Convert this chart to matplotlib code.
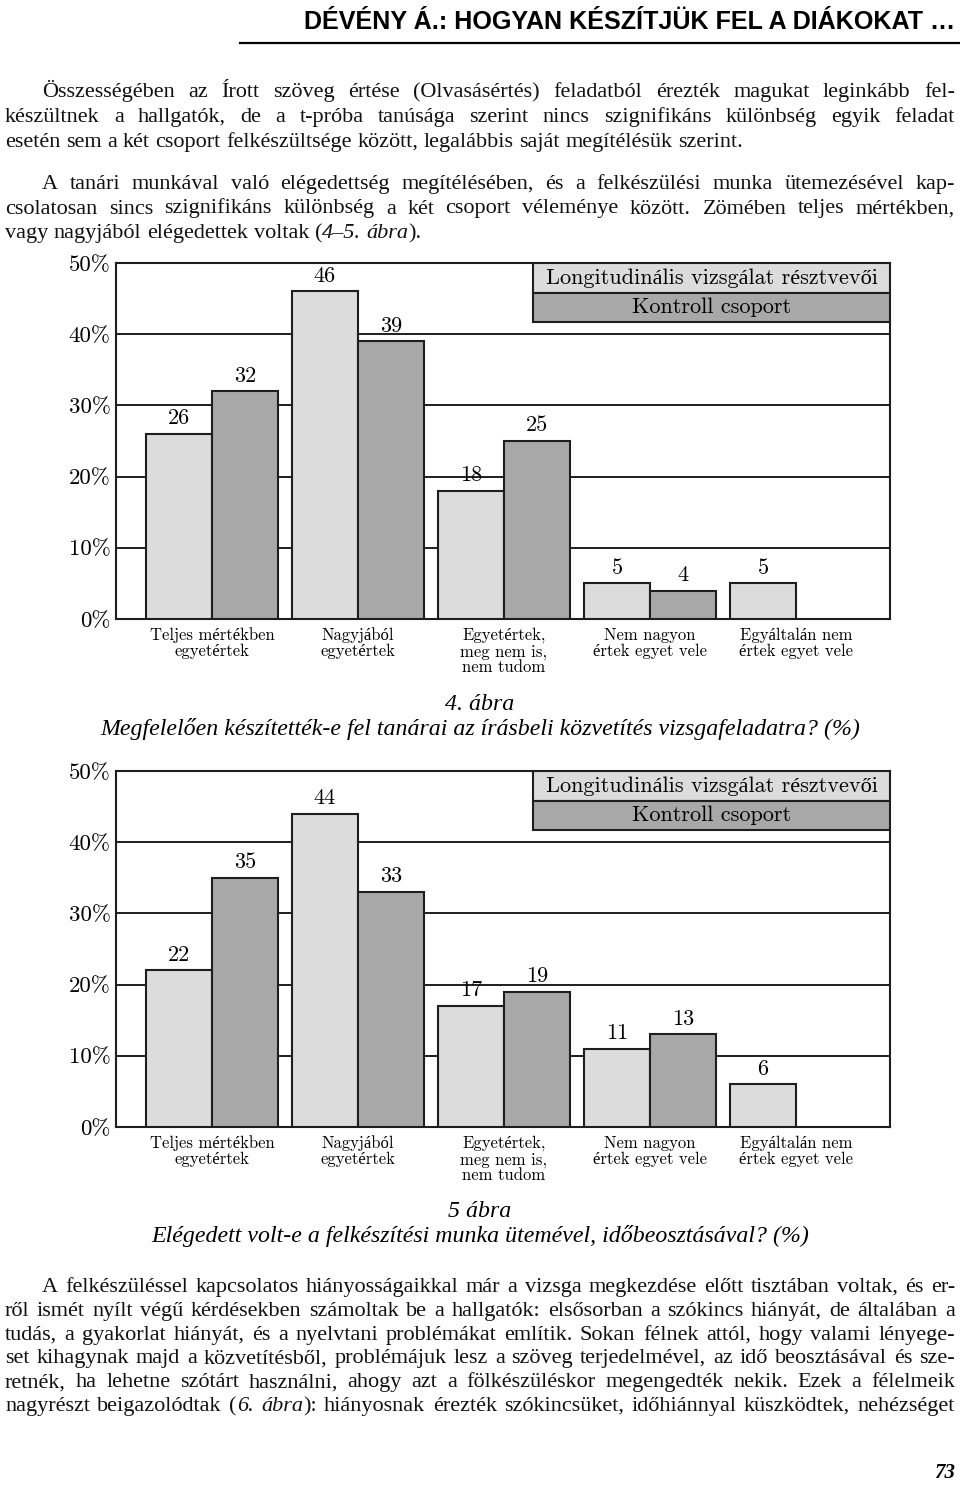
import numpy as np
import matplotlib
matplotlib.use("Agg")
import matplotlib.pyplot as plt
from matplotlib.patches import Rectangle
from matplotlib.lines import Line2D

W, H = 960, 1488

categories = [
    "Teljes mértékben\negyetértek",
    "Nagyjából\negyetértek",
    "Egyetértek,\nmeg nem is,\nnem tudom",
    "Nem nagyon\nértek egyet vele",
    "Egyáltalán nem\nértek egyet vele",
]
fig4_longitudinal = [26, 46, 18, 5, 5]
fig4_control = [32, 39, 25, 4, 0]
fig5_longitudinal = [22, 44, 17, 11, 6]
fig5_control = [35, 33, 19, 13, 0]

y_ticks = [0, 10, 20, 30, 40, 50]
y_tick_labels = ["0%", "10%", "20%", "30%", "40%", "50%"]
legend_labels = ["Longitudinális vizsgálat résztvevői", "Kontroll csoport"]

fig4_number = "4. ábra"
fig4_title = "Megfelelően készítették-e fel tanárai az írásbeli közvetítés vizsgafeladatra? (%)"
fig5_number = "5 ábra"
fig5_title = "Elégedett volt-e a felkészítési munka ütemével, időbeosztásával? (%)"

header = "DÉVÉNY Á.: HOGYAN KÉSZÍTJÜK FEL A DIÁKOKAT …"
page_number = "73"

# text between underscores is italic
para1 = [
    "Összességében az Írott szöveg értése (Olvasásértés) feladatból érezték magukat leginkább fel-",
    "készültnek a hallgatók, de a t-próba tanúsága szerint nincs szignifikáns különbség egyik feladat",
    "esetén sem a két csoport felkészültsége között, legalábbis saját megítélésük szerint.",
]
para2 = [
    "A tanári munkával való elégedettség megítélésében, és a felkészülési munka ütemezésével kap-",
    "csolatosan sincs szignifikáns különbség a két csoport véleménye között. Zömében teljes mértékben,",
    "vagy nagyjából elégedettek voltak (_4–5._ _ábra_).",
]
para3 = [
    "A felkészüléssel kapcsolatos hiányosságaikkal már a vizsga megkezdése előtt tisztában voltak, és er-",
    "ről ismét nyílt végű kérdésekben számoltak be a hallgatók: elsősorban a szókincs hiányát, de általában a",
    "tudás, a gyakorlat hiányát, és a nyelvtani problémákat említik. Sokan félnek attól, hogy valami lényege-",
    "set kihagynak majd a közvetítésből, problémájuk lesz a szöveg terjedelmével, az idő beosztásával és sze-",
    "retnék, ha lehetne szótárt használni, ahogy azt a fölkészüléskor megengedték nekik. Ezek a félelmeik",
    "nagyrészt beigazolódtak (_6._ _ábra_): hiányosnak érezték szókincsüket, időhiánnyal küszködtek, nehézséget",
]

CM = ["cmr10", "Liberation Serif"]
BODY = ["Liberation Serif", "DejaVu Serif"]
HEAD = ["Liberation Sans Narrow", "Liberation Sans", "DejaVu Sans"]
LIGHT = "#dcdcdc"
DARK = "#a8a8a8"
EDGE = "#1e1e1e"

fig = plt.figure(figsize=(W / 100, H / 100), dpi=100)
fig.patch.set_facecolor("white")
renderer = fig.canvas.get_renderer()


def fx(px):
    return px / W


def fy(py):
    return 1 - py / H


def split_runs(word):
    parts = word.split("_")
    return [(p, i % 2 == 1) for i, p in enumerate(parts) if p]


def measure(s, size, italic=False, **kw):
    kw.setdefault("family", BODY)
    t = fig.text(0, 0, s, fontsize=size, style="italic" if italic else "normal", **kw)
    w = t.get_window_extent(renderer).width
    t.remove()
    return w


def word_width(word, size):
    return sum(measure(s, size, it) for s, it in split_runs(word))


def set_paragraph(lines, y0, step, size, x0=5, x1=955, indent=37, justify_last=False):
    space = measure("a a", size) - measure("aa", size)
    for k, line in enumerate(lines):
        words = line.split(" ")
        widths = [word_width(w, size) for w in words]
        start = x0 + (indent if k == 0 else 0)
        last = (k == len(lines) - 1) and not justify_last
        gap = space if last else (x1 - start - sum(widths)) / (len(words) - 1)
        x = start
        y = y0 + k * step
        for w, ww in zip(words, widths):
            xr = x
            for s, it in split_runs(w):
                t = fig.text(fx(xr), fy(y), s, fontsize=size, family=BODY,
                             style="italic" if it else "normal",
                             va="baseline", ha="left", color="#111111")
                xr += t.get_window_extent(renderer).width
            x += ww + gap


# pick one body size so that every justified line fits
ref = 10
ratios = []
for lines, jl in [(para1, False), (para2, False), (para3, True)]:
    for k, line in enumerate(lines):
        if k == len(lines) - 1 and not jl:
            continue
        words = line.split(" ")
        natural = sum(word_width(w, ref) for w in words) + (len(words) - 1) * 2.0
        avail = 950 - (37 if k == 0 else 0)
        ratios.append(avail / natural)
body_size = min(16, ref * min(ratios))

# header, sized to span the same width as in the print
head_size = min(20, 10 * 652 / measure(header, 10, family=HEAD, weight="bold"))
fig.text(fx(955), fy(29), header, fontsize=head_size, weight="bold",
         family=HEAD, ha="right", va="baseline")
fig.add_artist(Line2D([fx(240), fx(960)], [fy(43), fy(43)], color="black", lw=1.6,
                      transform=fig.transFigure))

set_paragraph(para1, 97, 25, body_size)
set_paragraph(para2, 189, 24.5, body_size)
set_paragraph(para3, 1292, 23.8, body_size, justify_last=True)

fig.text(fx(955), fy(1478), page_number, fontsize=15, weight="bold", style="italic",
         family=BODY, ha="right", va="baseline")

w = 66 / 146
x = np.arange(len(categories))


def draw_chart(top_px, bottom_px, longit, control):
    ax = fig.add_axes([fx(116), fy(bottom_px), fx(890) - fx(116), (bottom_px - top_px) / H])
    ax.set_xlim((116 - 212) / 146, (890 - 212) / 146)
    ax.set_ylim(0, 50)
    for i, v in enumerate(longit):
        if v > 0:
            ax.bar(x[i] - w / 2, v, w, color=LIGHT, edgecolor=EDGE, lw=1.5, zorder=3)
            ax.annotate(str(v), (x[i] - w / 2, v), xytext=(0, 4), textcoords="offset points",
                        ha="center", va="bottom", fontsize=16, family=CM)
    for i, v in enumerate(control):
        if v > 0:
            ax.bar(x[i] + w / 2, v, w, color=DARK, edgecolor=EDGE, lw=1.5, zorder=3)
            ax.annotate(str(v), (x[i] + w / 2, v), xytext=(0, 4), textcoords="offset points",
                        ha="center", va="bottom", fontsize=16, family=CM)
    ax.set_yticks(y_ticks)
    ax.set_yticklabels(y_tick_labels, fontsize=16.5, family=CM)
    ax.tick_params(axis="y", length=0, pad=4)
    ax.set_xticks([])
    ax.yaxis.grid(True, color=EDGE, lw=1.4)
    ax.set_axisbelow(True)
    for s in ax.spines.values():
        s.set_linewidth(1.5)
        s.set_color(EDGE)
    for i, c in enumerate(categories):
        ax.annotate(c, (x[i], 0), xycoords=("data", "axes fraction"), xytext=(0, -6),
                    textcoords="offset points", ha="center", va="top", fontsize=12,
                    family=CM, linespacing=1.05)
    # legend as two stacked boxes
    lx = (533 - 116) / 774
    rh = 29.5 / (bottom_px - top_px)
    for k, (lab, col) in enumerate(zip(legend_labels, [LIGHT, DARK])):
        y0 = 1 - (k + 1) * rh
        ax.add_patch(Rectangle((lx, y0), 1 - lx, rh, transform=ax.transAxes,
                               facecolor=col, edgecolor=EDGE, lw=1.5, zorder=5))
        ax.text((lx + 1) / 2, y0 + rh / 2, lab, transform=ax.transAxes, ha="center",
                va="center", fontsize=16, family=CM, zorder=6)
    return ax


draw_chart(263, 619, fig4_longitudinal, fig4_control)
draw_chart(771, 1127, fig5_longitudinal, fig5_control)

cap_size = body_size * 1.075
fig.text(0.5, fy(710), fig4_number, fontsize=cap_size, style="italic", family=BODY,
         ha="center", va="baseline")
fig.text(0.5, fy(735), fig4_title, fontsize=cap_size, style="italic", family=BODY,
         ha="center", va="baseline")
fig.text(0.5, fy(1217), fig5_number, fontsize=cap_size, style="italic", family=BODY,
         ha="center", va="baseline")
fig.text(0.5, fy(1242), fig5_title, fontsize=cap_size, style="italic", family=BODY,
         ha="center", va="baseline")

fig.savefig("out.png", dpi=100)
